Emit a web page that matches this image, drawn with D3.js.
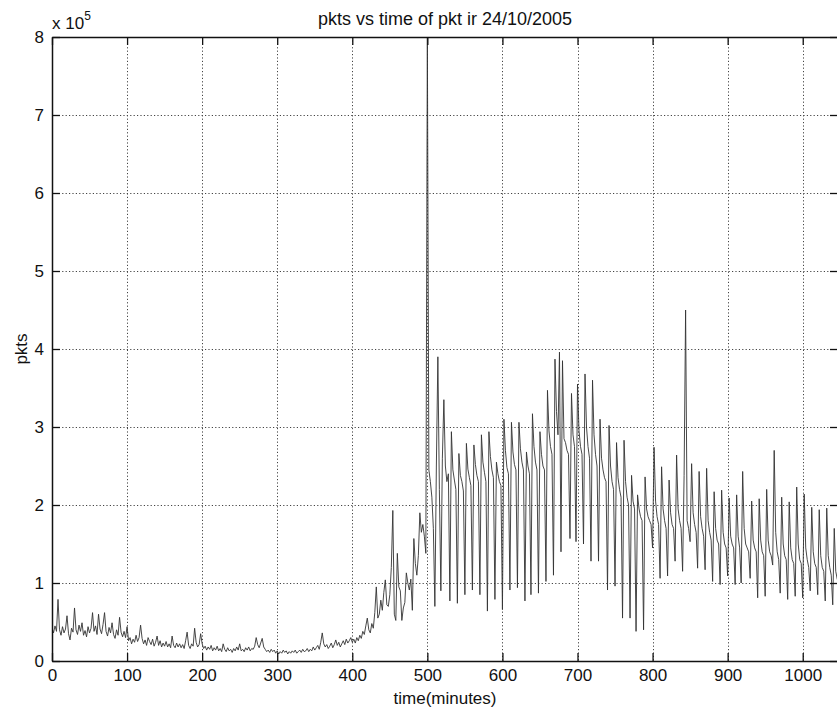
<!DOCTYPE html>
<html>
<head>
<meta charset="utf-8">
<script src="https://cdn.jsdelivr.net/npm/d3@7"></script>
<style>
  body { margin: 0; background: #fff; }
  text { font-family: "Liberation Sans", Arial, sans-serif; fill: #111; }
</style>
</head>
<body>
<div id="chart"></div>
<script>
// Data (pkts in units of 10^5, one sample every 2 minutes from t = 0)

var title = "pkts vs time of pkt ir 24/10/2005";
var xLabel = "time(minutes)";
var yLabel = "pkts";
var xTicks = [0, 100, 200, 300, 400, 500, 600, 700, 800, 900, 1000];
var yTicks = [0, 1, 2, 3, 4, 5, 6, 7, 8];
var step = 2;

var pkts = [
  0.42, 0.36, 0.45, 0.38, 0.79,  0.40, 0.33, 0.44, 0.36, 0.41,   // 0
  0.58, 0.35, 0.27, 0.42, 0.37,  0.68, 0.40, 0.34, 0.46, 0.38,   // 20
  0.49, 0.33, 0.39, 0.31, 0.44,  0.36, 0.42, 0.62, 0.38, 0.45,   // 40
  0.34, 0.60, 0.41, 0.35, 0.47,  0.62, 0.38, 0.32, 0.43, 0.36,   // 60
  0.49, 0.34, 0.29, 0.40, 0.33,  0.56, 0.37, 0.31, 0.38, 0.30,   // 80
  0.44, 0.26, 0.30, 0.22, 0.28,  0.24, 0.33, 0.25, 0.30, 0.46,   // 100
  0.29, 0.22, 0.27, 0.20, 0.30,  0.25, 0.21, 0.28, 0.19, 0.24,   // 120
  0.32, 0.20, 0.26, 0.18, 0.23,  0.19, 0.25, 0.18, 0.22, 0.17,   // 140
  0.32, 0.20, 0.17, 0.23, 0.18,  0.22, 0.17, 0.21, 0.16, 0.26,   // 160
  0.37, 0.20, 0.16, 0.22, 0.19,  0.42, 0.24, 0.18, 0.21, 0.35,   // 180
  0.22, 0.16, 0.19, 0.14, 0.18,  0.15, 0.20, 0.13, 0.17, 0.14,   // 200
  0.19, 0.13, 0.16, 0.12, 0.22,  0.15, 0.12, 0.17, 0.13, 0.15,   // 220
  0.11, 0.16, 0.13, 0.18, 0.14,  0.22, 0.13, 0.15, 0.12, 0.17,   // 240
  0.14, 0.18, 0.13, 0.16, 0.15,  0.19, 0.30, 0.21, 0.17, 0.23,   // 260
  0.29, 0.18, 0.15, 0.12, 0.14,  0.11, 0.15, 0.12, 0.14, 0.10,   // 280
  0.13, 0.09, 0.12, 0.10, 0.14,  0.11, 0.13, 0.09, 0.12, 0.10,   // 300
  0.13, 0.11, 0.14, 0.10, 0.12,  0.14, 0.11, 0.15, 0.12, 0.13,   // 320
  0.16, 0.12, 0.15, 0.13, 0.18,  0.14, 0.17, 0.20, 0.15, 0.24,   // 340
  0.36, 0.22, 0.18, 0.21, 0.16,  0.19, 0.23, 0.17, 0.21, 0.27,   // 360
  0.20, 0.24, 0.18, 0.22, 0.26,  0.21, 0.28, 0.23, 0.26, 0.30,   // 380
  0.24, 0.28, 0.23, 0.30, 0.26,  0.33, 0.29, 0.38, 0.34, 0.45,   // 400
  0.55, 0.40, 0.36, 0.48, 0.42,  0.62, 0.95, 0.55, 0.60, 0.78,   // 420
  0.65, 0.88, 1.04, 0.72, 0.70,  0.85, 1.20, 1.93, 0.60, 0.52,   // 440
  1.38, 0.95, 0.90, 0.52, 0.68,  0.75, 1.13, 1.00, 0.91, 1.05,   // 460
  0.65, 1.57, 1.25, 1.10, 1.35,  1.90, 1.65, 1.75, 1.60, 1.38,   // 480
  8.00, 2.45, 2.30, 2.10, 1.70,  0.70, 2.50, 3.90, 2.20, 0.90,   // 500
  2.60, 3.35, 2.50, 2.30, 2.40,  0.77, 2.94, 2.45, 2.32, 2.20,   // 520
  0.74, 2.66, 2.38, 2.30, 2.18,  0.85, 2.79, 2.46, 2.35, 2.25,   // 540
  0.91, 2.77, 2.52, 2.38, 2.30,  0.85, 2.90, 2.55, 2.42, 2.30,   // 560
  0.64, 2.94, 2.62, 2.45, 2.35,  0.79, 2.55, 2.40, 2.30, 2.25,   // 580
  0.66, 3.10, 2.70, 2.48, 2.40,  0.91, 3.06, 2.68, 2.52, 2.45,   // 600
  0.94, 3.06, 2.72, 2.55, 2.45,  0.77, 2.68, 2.50, 2.40, 0.85,   // 620
  3.17, 2.75, 2.55, 2.45, 0.87,  2.94, 2.65, 2.50, 2.45, 1.02,   // 640
  3.47, 2.95, 2.75, 2.65, 1.10,  3.87, 3.20, 2.90, 3.96, 1.40,   // 660
  3.85, 2.85, 2.80, 2.70, 2.65,  1.57, 3.43, 2.90, 2.75, 1.53,   // 680
  3.55, 2.95, 2.75, 2.65, 1.50,  3.68, 3.00, 2.75, 2.60, 1.28,   // 700
  3.60, 2.90, 2.65, 2.50, 1.28,  3.10, 2.60, 2.45, 2.35, 2.30,   // 720
  0.91, 3.02, 2.50, 2.30, 2.20,  0.96, 2.80, 2.35, 2.20, 2.10,   // 740
  0.55, 2.83, 2.30, 2.10, 2.00,  0.55, 2.38, 2.05, 1.95, 0.38,   // 760
  2.13, 1.95, 1.85, 1.80, 0.40,  2.36, 1.95, 1.85, 1.80, 1.75,   // 780
  1.45, 2.74, 2.05, 1.85, 1.75,  1.06, 2.49, 1.95, 1.80, 1.70,   // 800
  1.09, 2.32, 1.90, 1.75, 1.70,  1.28, 2.64, 1.95, 1.80, 1.70,   // 820
  1.15, 2.38, 4.50, 1.80, 1.70,  1.53, 2.53, 1.90, 1.75, 1.65,   // 840
  1.19, 2.43, 1.85, 1.70, 1.60,  1.17, 2.47, 1.80, 1.65, 1.55,   // 860
  1.02, 2.17, 1.70, 1.55, 1.50,  0.98, 2.19, 1.65, 1.50, 1.45,   // 880
  1.09, 2.09, 1.60, 1.50, 1.45,  0.98, 2.13, 1.60, 1.45, 1.00,   // 900
  2.43, 1.70, 1.50, 1.45, 1.40,  1.06, 2.05, 1.55, 1.45, 1.40,   // 920
  0.81, 2.08, 1.55, 1.40, 1.35,  0.83, 2.20, 1.55, 1.40, 1.35,   // 940
  1.23, 2.70, 1.65, 1.40, 1.30,  0.87, 2.10, 1.50, 1.35, 1.30,   // 960
  0.79, 2.04, 1.45, 1.30, 1.25,  0.83, 2.23, 1.50, 1.30, 1.25,   // 980
  0.81, 2.14, 1.45, 1.30, 1.20,  0.90, 1.97, 1.40, 1.25, 1.20,   // 1000
  0.85, 1.94, 1.35, 1.20, 1.15,  0.77, 1.96, 1.35, 1.20, 1.10,   // 1020
  0.72, 1.70, 1.15, 1.05, 1.00                                   // 1040
];

// Layout

var width = 837;
var height = 713;
var plot = {left: 52, top: 37, right: 838, bottom: 661};

var svg = d3.select("#chart").append("svg")
    .attr("width", width)
    .attr("height", height);

var x = d3.scaleLinear().domain([0, 1047]).range([plot.left, plot.right]);
var y = d3.scaleLinear().domain([0, 8]).range([plot.bottom, plot.top]);

svg.append("clipPath")
    .attr("id", "clip")
  .append("rect")
    .attr("x", plot.left)
    .attr("y", plot.top)
    .attr("width", plot.right - plot.left)
    .attr("height", plot.bottom - plot.top);

// Grid (dotted)

var grid = svg.append("g")
    .attr("stroke", "#444")
    .attr("stroke-width", 1)
    .attr("stroke-dasharray", "1.2,2.2");

grid.selectAll(".gx")
    .data(xTicks.filter(function(d) { return d > 0; }))
  .enter().append("line")
    .attr("x1", function(d) { return Math.round(x(d)) + 0.5; })
    .attr("x2", function(d) { return Math.round(x(d)) + 0.5; })
    .attr("y1", plot.top)
    .attr("y2", plot.bottom);

grid.selectAll(".gy")
    .data(yTicks.filter(function(d) { return d > 0 && d < 8; }))
  .enter().append("line")
    .attr("x1", plot.left)
    .attr("x2", plot.right)
    .attr("y1", function(d) { return Math.round(y(d)) + 0.5; })
    .attr("y2", function(d) { return Math.round(y(d)) + 0.5; });

// Series

var line = d3.line()
    .x(function(d, i) { return x(i * step); })
    .y(function(d) { return y(d); });

svg.append("path")
    .datum(pkts)
    .attr("clip-path", "url(#clip)")
    .attr("fill", "none")
    .attr("stroke", "#333")
    .attr("stroke-width", 0.9)
    .attr("d", line);

// Axes (ticks inside, on all four sides)

svg.append("g")
    .attr("transform", "translate(0," + plot.bottom + ")")
    .call(d3.axisBottom(x).tickValues(xTicks).tickFormat(d3.format("d"))
      .tickSizeInner(-8).tickSizeOuter(0).tickPadding(8))
    .call(function(g) {
      g.select(".domain").attr("stroke", "#111").attr("stroke-width", 1.5);
      g.selectAll(".tick line").attr("stroke", "#111").attr("stroke-width", 1.3);
      g.selectAll("text").style("font-size", "17px").attr("fill", "#111");
    });

svg.append("g")
    .attr("transform", "translate(0," + plot.top + ")")
    .call(d3.axisTop(x).tickValues(xTicks).tickSizeInner(-8).tickSizeOuter(0).tickFormat(""))
    .call(function(g) {
      g.select(".domain").attr("stroke", "#111").attr("stroke-width", 1.5);
      g.selectAll(".tick line").attr("stroke", "#111").attr("stroke-width", 1.3);
    });

svg.append("g")
    .attr("transform", "translate(" + plot.left + ",0)")
    .call(d3.axisLeft(y).tickValues(yTicks).tickSizeInner(-8).tickSizeOuter(0).tickPadding(8))
    .call(function(g) {
      g.select(".domain").attr("stroke", "#111").attr("stroke-width", 1.5);
      g.selectAll(".tick line").attr("stroke", "#111").attr("stroke-width", 1.3);
      g.selectAll("text").style("font-size", "17px").attr("fill", "#111");
    });

svg.append("g")
    .attr("transform", "translate(" + plot.right + ",0)")
    .call(d3.axisRight(y).tickValues(yTicks).tickSizeInner(-8).tickSizeOuter(0).tickFormat(""))
    .call(function(g) {
      g.select(".domain").attr("stroke", "#111").attr("stroke-width", 1.5);
      g.selectAll(".tick line").attr("stroke", "#111").attr("stroke-width", 1.3);
    });

// Labels

svg.append("text")
    .attr("x", 445)
    .attr("y", 25)
    .attr("text-anchor", "middle")
    .style("font-size", "18px")
    .text(title);

svg.append("text")
    .attr("x", 445)
    .attr("y", 704)
    .attr("text-anchor", "middle")
    .style("font-size", "17px")
    .text(xLabel);

svg.append("text")
    .attr("transform", "translate(27," + (plot.top + plot.bottom) / 2 + ") rotate(-90)")
    .attr("text-anchor", "middle")
    .style("font-size", "17px")
    .text(yLabel);

var exp = svg.append("text")
    .attr("x", 52)
    .attr("y", 29)
    .style("font-size", "17px");
exp.append("tspan").text("x 10");
exp.append("tspan")
    .attr("dy", -9)
    .style("font-size", "12px")
    .text("5");
</script>
</body>
</html>
